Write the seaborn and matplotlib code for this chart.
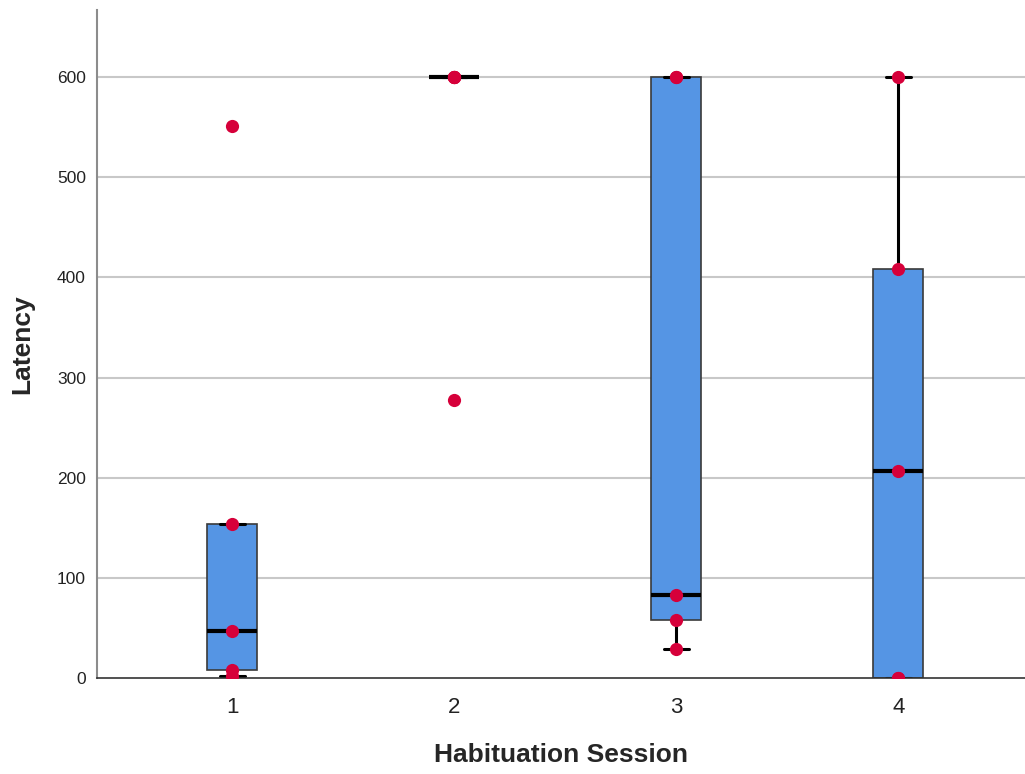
import matplotlib
matplotlib.use("Agg")
import matplotlib.pyplot as plt
import seaborn as sns
import pandas as pd

# Latency per habituation session (five animals per session)
sessions = ["1", "2", "3", "4"]
session_1 = [2, 8, 47, 154, 551]
session_2 = [278, 600, 600, 600, 600]
session_3 = [29, 58, 83, 600, 600]
session_4 = [0, 0, 207, 408, 600]
y_ticks = [0, 100, 200, 300, 400, 500, 600]

values = [session_1, session_2, session_3, session_4]
df = pd.DataFrame(
    [(s, v) for s, vals in zip(sessions, values) for v in vals],
    columns=["Habituation Session", "Latency"],
)

sns.set_theme(style="white")
plt.rcParams["font.family"] = ["Liberation Sans", "DejaVu Sans"]

fig = plt.figure(figsize=(10.25, 7.74), dpi=100)
ax = fig.add_axes([0.0946, 0.124, 0.9054, 0.863])

for t in y_ticks[1:]:
    ax.axhline(t, color="#c8c8c8", lw=1.5, zorder=0)

sns.boxplot(
    data=df, x="Habituation Session", y="Latency", order=sessions,
    width=0.225, whis=1.5, showfliers=False, ax=ax,
    boxprops=dict(facecolor="#5595E4", edgecolor="#3a3a3a", linewidth=1.2),
    medianprops=dict(color="black", linewidth=3),
    whiskerprops=dict(color="black", linewidth=2.2),
    capprops=dict(color="black", linewidth=2.2),
)
sns.stripplot(
    data=df, x="Habituation Session", y="Latency", order=sessions,
    jitter=False, color="#D6003A", size=9.5, linewidth=0, ax=ax, zorder=5,
)

ax.set_xlim(-0.61, 3.57)
ax.set_ylim(0, 667)
ax.set_yticks(y_ticks)
ax.set_yticklabels([str(t) for t in y_ticks], fontsize=12.5, color="#222222")
ax.tick_params(axis="x", labelsize=16, length=0, pad=14, colors="#222222")
ax.tick_params(axis="y", length=0, pad=8)

ax.set_xlabel("Habituation Session", fontsize=19, fontweight="bold", labelpad=18)
ax.set_ylabel("Latency", fontsize=19, fontweight="bold", labelpad=16)

for side in ["top", "right"]:
    ax.spines[side].set_visible(False)
ax.spines["left"].set_color("#8c8c8c")
ax.spines["left"].set_linewidth(1.5)
ax.spines["bottom"].set_color("#333333")
ax.spines["bottom"].set_linewidth(1.2)

fig.savefig("out.png", dpi=100, facecolor="white")
